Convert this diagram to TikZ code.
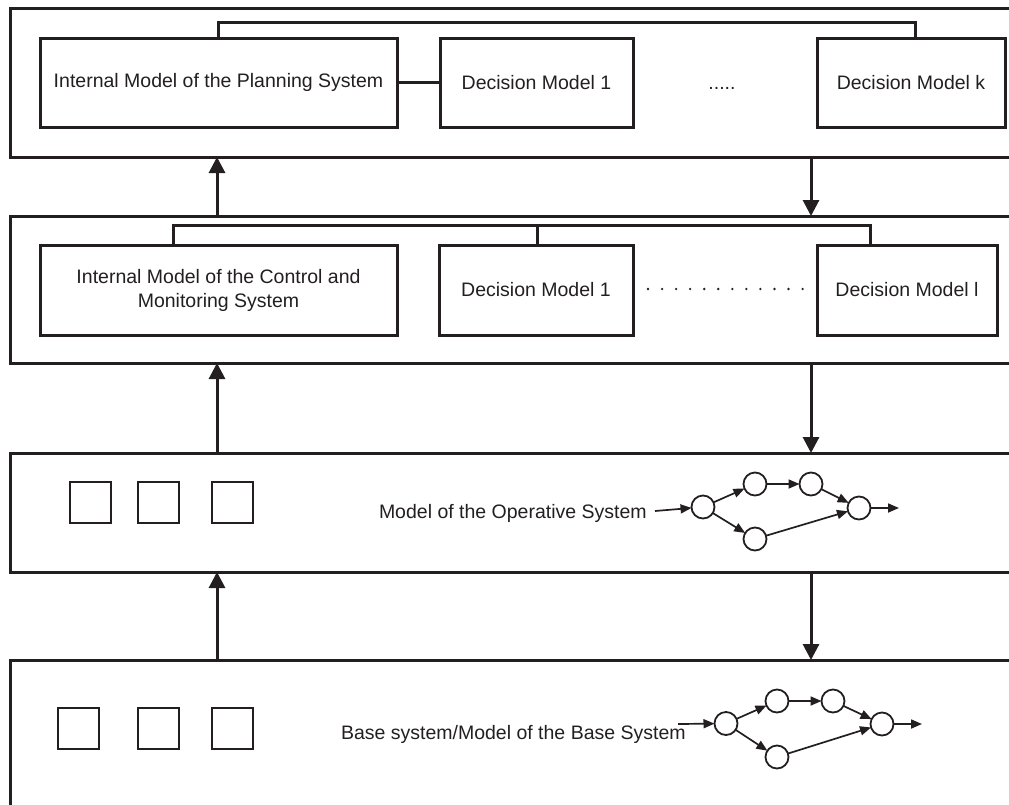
\documentclass[tikz,border=0pt]{standalone}
\usepackage{fontspec}
\setmainfont{Liberation Sans}
\usetikzlibrary{arrows.meta}
\definecolor{ink}{RGB}{35,31,32}
\begin{document}
\begin{tikzpicture}[x=1pt,y=-1pt,
  every node/.style={inner sep=0pt,outer sep=0pt},
  layer/.style={draw=ink,line width=3pt,anchor=north west,minimum width=1040pt},
  model/.style={draw=ink,line width=3pt,align=center,text=ink,
    font=\fontsize{19.5}{24}\selectfont},
  label/.style={text=ink,font=\fontsize{19.5}{24}\selectfont},
  part/.style={draw=ink,line width=2pt,minimum width=41pt,minimum height=41pt},
  state/.style={draw=ink,line width=1.8pt,circle,minimum size=23pt},
  wire/.style={draw=ink,line width=3pt},
  flow/.style={draw=ink,line width=3pt,-{Triangle[width=16pt,length=16pt]}},
  edge/.style={draw=ink,line width=1.7pt,-{Triangle[width=9pt,length=11pt]}},
  dotrow/.style={draw=ink,line width=2.6pt,line cap=round,dash pattern=on 0pt off 14.05pt}]
\useasboundingbox (0,0) rectangle (1009,804);
\clip (0,0) rectangle (1009,804);

% ---- the four levels ----
\node[layer,minimum height=149pt] (L1) at (10,8) {};
\node[layer,minimum height=147pt] (L2) at (10,216) {};
\node[layer,minimum height=119pt] (L3) at (10,453) {};
\node[layer,minimum height=200pt] (L4) at (10,660) {};

% ---- planning level ----
\node[model,minimum width=357pt,minimum height=89pt] (IMP) at (218.5,82.5) {Internal Model of the Planning System};
\node[model,minimum width=193pt,minimum height=89pt] (PD1) at (536.5,82.5) {Decision Model 1};
\node[model,minimum width=188pt,minimum height=89pt] (PDk) at (911,82.5) {Decision Model k};
\node[label,anchor=base] (pdots) at (722,89) {.....};
\draw[wire] (IMP.north) |- (915,22) -- (915,0 |- PDk.north);
\draw[wire] (IMP.east) -- (PD1.west);

% ---- control and monitoring level ----
\node[model,minimum width=357pt,minimum height=90pt] (IMC) at (218.5,290) {Internal Model of the Control and\\Monitoring System};
\node[model,minimum width=194pt,minimum height=90pt] (CD1) at (536,290) {Decision Model 1};
\node[model,minimum width=180pt,minimum height=90pt] (CDl) at (907,290) {Decision Model l};
\draw[wire] (173,0 |- IMC.north) |- (870,225) -- (870,0 |- CDl.north);
\draw[wire] (537,225) -- (537,0 |- CD1.north);
\draw[dotrow,shorten <=15pt,shorten >=14pt] ([yshift=1pt]CD1.east) -- ([yshift=1pt]CDl.west);

% ---- flows between the levels ----
\draw[flow] (217,0 |- L2.north) -- (217,0 |- L1.south);
\draw[flow] (811,0 |- L1.south) -- (811,0 |- L2.north);
\draw[flow] (217,0 |- L3.north) -- (217,0 |- L2.south);
\draw[flow] (811,0 |- L2.south) -- (811,0 |- L3.north);
\draw[flow] (217,0 |- L4.north) -- (217,0 |- L3.south);
\draw[flow] (811,0 |- L3.south) -- (811,0 |- L4.north);

% ---- operative system ----
\node[part] (oa) at (90.5,502.5) {};
\node[part] (ob) at (158.5,502.5) {};
\node[part] (oc) at (232.5,502.5) {};
\node[label,anchor=base west] (opl) at (379,518) {Model of the Operative System};
\coordinate (oin) at (655,511);
\node[state] (o1) at (703,507) {};
\node[state] (o2) at (755,484) {};
\node[state] (o3) at (811,484) {};
\node[state] (o4) at (755,539) {};
\node[state] (o5) at (859,508) {};
\coordinate (oout) at (899,508);
\draw[edge] (oin) -- (o1);
\draw[edge] (o1) -- (o2);
\draw[edge] (o2) -- (o3);
\draw[edge] (o3) -- (o5);
\draw[edge] (o1) -- (o4);
\draw[edge] (o4) -- (o5);
\draw[edge] (o5) -- (oout);

% ---- base system ----
\node[part] (ba) at (78.5,728.5) {};
\node[part] (bb) at (158.5,728.5) {};
\node[part] (bc) at (232.5,728.5) {};
\node[label,anchor=base west] (bsl) at (341,739) {Base system/Model of the Base System};
\coordinate (bin) at (678,724);
\node[state] (b1) at (726,723.5) {};
\node[state] (b2) at (777,701) {};
\node[state] (b3) at (833,701) {};
\node[state] (b4) at (777,757) {};
\node[state] (b5) at (882,724) {};
\coordinate (bout) at (922,724);
\draw[edge] (bin) -- (b1);
\draw[edge] (b1) -- (b2);
\draw[edge] (b2) -- (b3);
\draw[edge] (b3) -- (b5);
\draw[edge] (b1) -- (b4);
\draw[edge] (b4) -- (b5);
\draw[edge] (b5) -- (bout);
\end{tikzpicture}
\end{document}
